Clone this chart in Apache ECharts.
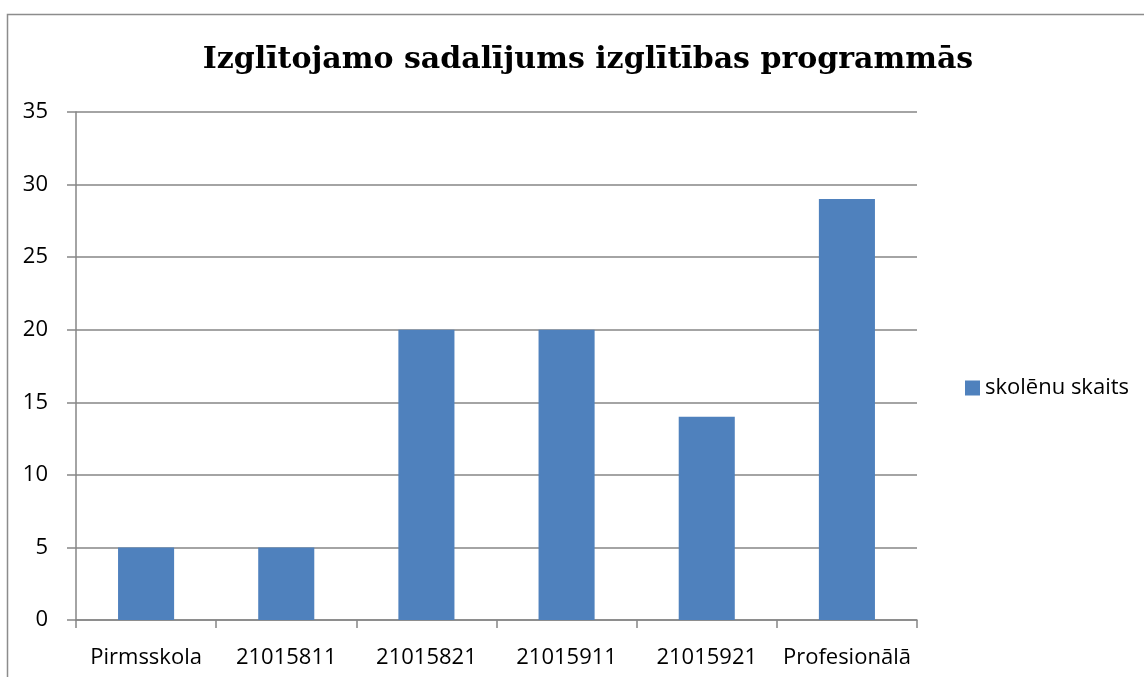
<!DOCTYPE html>
<html><head><meta charset="utf-8">
<script src="https://cdn.jsdelivr.net/npm/echarts@6/dist/echarts.min.js"></script>
<style>html,body{margin:0;padding:0;background:#fff}#c{width:1144px;height:677px}</style>
</head><body><div id="c"></div>
<script>
const categories = ['Pirmsskola','21015811','21015821','21015911','21015921','Profesionālā'];
const values = [5, 5, 20, 20, 14, 29];
const seriesName = 'skolēnu skaits';
const titleText = 'Izglītojamo sadalījums izglītības programmās';

const chart = echarts.init(document.getElementById('c'), null, {renderer:'canvas'});
chart.setOption({
  animation:false,
  backgroundColor:'#fff',
  graphic:[{type:'rect',shape:{x:7.5,y:14.5,width:1200,height:800},style:{fill:'none',stroke:'#8c8c8c',lineWidth:1.5},silent:true}],
  title:{text:titleText,left:583,top:40,textAlign:'center',
    textStyle:{fontFamily:'DejaVu Serif',fontWeight:'bold',fontSize:30,color:'#000'}},
  legend:{orient:'vertical',left:960,top:372,itemWidth:15,itemHeight:15,itemGap:8,
    icon:'rect',textStyle:{fontFamily:'Open Sans',fontSize:22,color:'#000'},data:[seriesName]},
  grid:{left:76,right:227,top:112,bottom:57,containLabel:false},
  xAxis:{type:'category',data:categories,
    axisLine:{lineStyle:{color:'#868686',width:1.5}},
    axisTick:{show:true,length:8,lineStyle:{color:'#868686',width:1.5},alignWithLabel:false},
    axisLabel:{fontFamily:'Open Sans',fontSize:22,color:'#000',margin:27,interval:0}},
  yAxis:{type:'value',min:0,max:35,interval:5,
    axisLine:{show:true,lineStyle:{color:'#868686',width:1.5}},
    axisTick:{show:true,length:9,lineStyle:{color:'#868686',width:1.5}},
    splitLine:{lineStyle:{color:'#868686',width:1.5}},
    axisLabel:{fontFamily:'Open Sans',fontSize:22,color:'#000',margin:28}},
  series:[{name:seriesName,type:'bar',data:values,barWidth:'40%',
    itemStyle:{color:'#4F81BD'}}]
});
</script></body></html>
